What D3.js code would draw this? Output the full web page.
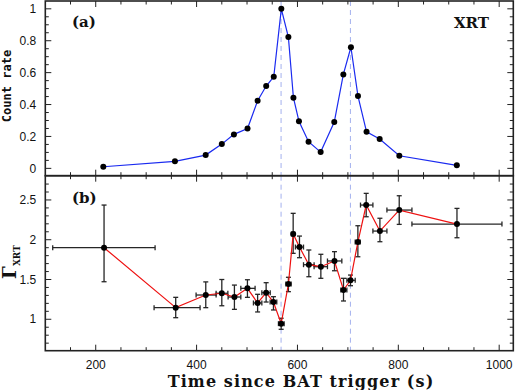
<!DOCTYPE html>
<html><head><meta charset="utf-8">
<script src="https://cdn.jsdelivr.net/npm/d3@7"></script>
<style>body{margin:0;background:#fff}svg{display:block}</style>
</head><body>
<svg id="c" width="515" height="390"></svg>
<script>
// Panel (a): XRT count rate
const rateTime = [215,357,418,450,474,501,521,538,553,568,582,592,603,622,646,673,691,706,720,737,763,802,916];
const rateVal  = [0.01,0.044,0.083,0.152,0.213,0.25,0.424,0.516,0.574,1.0,0.823,0.443,0.295,0.167,0.102,0.29,0.589,0.759,0.453,0.229,0.184,0.079,0.019];
// Panel (b): photon index
const gTime = [216.5,358.6,418.2,450,475,500.8,521,537.9,552.4,567.7,582.1,591.5,604,622.6,646.4,673.4,691.3,705.2,719.8,736.3,763.5,801.8,916.3];
const gLo   = [114.7,315.7,399,438.7,462.5,487.7,512.7,529.4,545.8,562.3,577,588,596,612,633,659.5,686,698,714.5,725,749.6,777.4,827];
const gHi   = [317.7,406.9,438.7,462,487.7,516,529.4,546,559,573.6,587.5,594.5,612,633,659.5,688,698,714.5,724.4,749.6,777.4,827,1005.5];
const gVal  = [1.9,1.146,1.305,1.327,1.28,1.389,1.205,1.334,1.217,0.945,1.443,2.072,1.908,1.686,1.661,1.733,1.368,1.49,1.971,2.436,2.109,2.373,2.197];
const gErrHi= [2.436,1.276,1.47,1.50,1.43,1.497,1.314,1.46,1.284,1.013,1.528,2.332,2.046,1.871,1.817,1.85,1.515,1.556,2.176,2.583,2.27,2.553,2.394];
const gErrLo= [1.472,1.02,1.146,1.17,1.125,1.276,1.092,1.217,1.117,0.874,1.347,1.829,1.774,1.535,1.515,1.61,1.23,1.422,1.786,2.289,1.975,2.193,2.025];
const markerTimes = [567.5, 705];
const xTickLabels = [200,400,600,800,1000];
const rateTicks = [0,0.2,0.4,0.6,0.8,1];
const gTicks = [1,1.5,2,2.5];

const svg = d3.select("#c");
const L = 45.3, R = 513.3, T1 = 1, B1 = 175.7, T2 = 175.7, B2 = 350.7;
const x = d3.scaleLinear().domain([100, 1028]).range([L, R]);
const y1 = d3.scaleLinear().domain([-0.046, 1.049]).range([B1, T1]);
const y2 = d3.scaleLinear().domain([0.605, 2.805]).range([B2, T2]);
const axisCol = "#222";
const sans = "Liberation Sans, Arial, sans-serif";
const serif = "DejaVu Serif, serif";

function ticksRange(a, b, step) { const r=[]; for (let v=a; v<=b+1e-9; v+=step) r.push(+v.toFixed(6)); return r; }

function drawFrame(y, top, bot, yMajor, yMinor) {
  const g = svg.append("g");
  const xMinor = ticksRange(150, 1000, 50);
  xMinor.forEach(v => {
    const major = v % 200 === 0;
    const len = major ? 6 : 3.5;
    g.append("line").attr("x1", x(v)).attr("x2", x(v)).attr("y1", bot).attr("y2", bot - len).attr("stroke", axisCol).attr("stroke-width", 1);
    g.append("line").attr("x1", x(v)).attr("x2", x(v)).attr("y1", top).attr("y2", top + len).attr("stroke", axisCol).attr("stroke-width", 1);
  });
  yMinor.forEach(v => {
    const major = yMajor.some(m => Math.abs(m - v) < 1e-6);
    const len = major ? 6 : 3.5;
    g.append("line").attr("x1", L).attr("x2", L + len).attr("y1", y(v)).attr("y2", y(v)).attr("stroke", axisCol).attr("stroke-width", 1);
    g.append("line").attr("x1", R).attr("x2", R - len).attr("y1", y(v)).attr("y2", y(v)).attr("stroke", axisCol).attr("stroke-width", 1);
  });
  g.append("rect").attr("x", L).attr("y", top).attr("width", R - L).attr("height", bot - top)
    .attr("fill", "none").attr("stroke", axisCol).attr("stroke-width", 1.6);
  yMajor.forEach(v => {
    g.append("text").attr("x", L - 9).attr("y", y(v)).attr("dy", "0.35em").attr("text-anchor", "end")
      .attr("font-family", sans).attr("font-size", 12).attr("fill", "#111").text(v);
  });
}

[[y1, T1, B1], [y2, T2, B2]].forEach(([y, t, b]) => {
  markerTimes.forEach(m => {
    svg.append("line").attr("x1", x(m)).attr("x2", x(m)).attr("y1", t).attr("y2", b)
      .attr("stroke", "#a3b0ee").attr("stroke-width", 1).attr("stroke-dasharray", "5,4");
  });
});

drawFrame(y1, T1, B1, rateTicks, ticksRange(0, 1.0, 0.05));
drawFrame(y2, T2, B2, gTicks, ticksRange(0.7, 2.7, 0.1));

xTickLabels.forEach(v => {
  svg.append("text").attr("x", x(v)).attr("y", 369).attr("text-anchor", "middle")
    .attr("font-family", sans).attr("font-size", 12).attr("fill", "#111").text(v);
});

// Panel a
const rateData = rateTime.map((t, i) => ({t, v: rateVal[i]}));
svg.append("path").datum(rateData)
  .attr("d", d3.line().x(d => x(d.t)).y(d => y1(d.v)))
  .attr("fill", "none").attr("stroke", "#1a2af0").attr("stroke-width", 1.2);
svg.selectAll(".pa").data(rateData).join("circle")
  .attr("cx", d => x(d.t)).attr("cy", d => y1(d.v)).attr("r", 3).attr("fill", "#000");

// Panel b
const gData = gTime.map((t, i) => ({t, v: gVal[i], lo: gLo[i], hi: gHi[i], el: gErrLo[i], eh: gErrHi[i]}));
const eg = svg.append("g").attr("stroke", "#262626").attr("stroke-width", 1.3).attr("fill", "none");
gData.forEach(d => {
  eg.append("line").attr("x1", x(d.lo)).attr("x2", x(d.hi)).attr("y1", y2(d.v)).attr("y2", y2(d.v));
  eg.append("line").attr("x1", x(d.t)).attr("x2", x(d.t)).attr("y1", y2(d.el)).attr("y2", y2(d.eh));
  const c = 2.5;
  eg.append("line").attr("x1", x(d.lo)).attr("x2", x(d.lo)).attr("y1", y2(d.v) - c).attr("y2", y2(d.v) + c);
  eg.append("line").attr("x1", x(d.hi)).attr("x2", x(d.hi)).attr("y1", y2(d.v) - c).attr("y2", y2(d.v) + c);
  eg.append("line").attr("x1", x(d.t) - c).attr("x2", x(d.t) + c).attr("y1", y2(d.el)).attr("y2", y2(d.el));
  eg.append("line").attr("x1", x(d.t) - c).attr("x2", x(d.t) + c).attr("y1", y2(d.eh)).attr("y2", y2(d.eh));
});
svg.append("path").datum(gData)
  .attr("d", d3.line().x(d => x(d.t)).y(d => y2(d.v)))
  .attr("fill", "none").attr("stroke", "#ee1111").attr("stroke-width", 1.2);
svg.selectAll(".pb").data(gData).join("circle")
  .attr("cx", d => x(d.t)).attr("cy", d => y2(d.v)).attr("r", 3).attr("fill", "#000");

// Labels
svg.append("text").attr("x", 72).attr("y", 27).attr("font-family", serif).attr("font-weight", "bold")
  .attr("font-size", 15).attr("fill", "#111").text("(a)");
svg.append("text").attr("x", 72).attr("y", 203).attr("font-family", serif).attr("font-weight", "bold")
  .attr("font-size", 15).attr("fill", "#111").text("(b)");
svg.append("text").attr("x", 489).attr("y", 28).attr("text-anchor", "end").attr("font-family", serif).attr("font-weight", "bold")
  .attr("font-size", 15).attr("fill", "#111").text("XRT");
svg.append("text").attr("x", 301).attr("y", 387).attr("text-anchor", "middle").attr("font-family", serif).attr("font-weight", "bold")
  .attr("font-size", 16).attr("letter-spacing", 1.1).attr("fill", "#111").text("Time since BAT trigger (s)");
svg.append("text").attr("transform", "translate(11,86) rotate(-90)").attr("text-anchor", "middle")
  .attr("font-family", "DejaVu Sans Mono, monospace").attr("font-weight", "bold")
  .attr("font-size", 12).attr("fill", "#111").text("Count rate");
const gl = svg.append("text").attr("transform", "translate(16,262) rotate(-90)").attr("text-anchor", "middle")
  .attr("font-family", serif).attr("fill", "#111");
gl.append("tspan").attr("font-size", 18).attr("font-weight", "bold").text("Γ");
gl.append("tspan").attr("font-size", 9).attr("font-weight", "bold").attr("dy", 4).text("XRT");
</script>
</body></html>
